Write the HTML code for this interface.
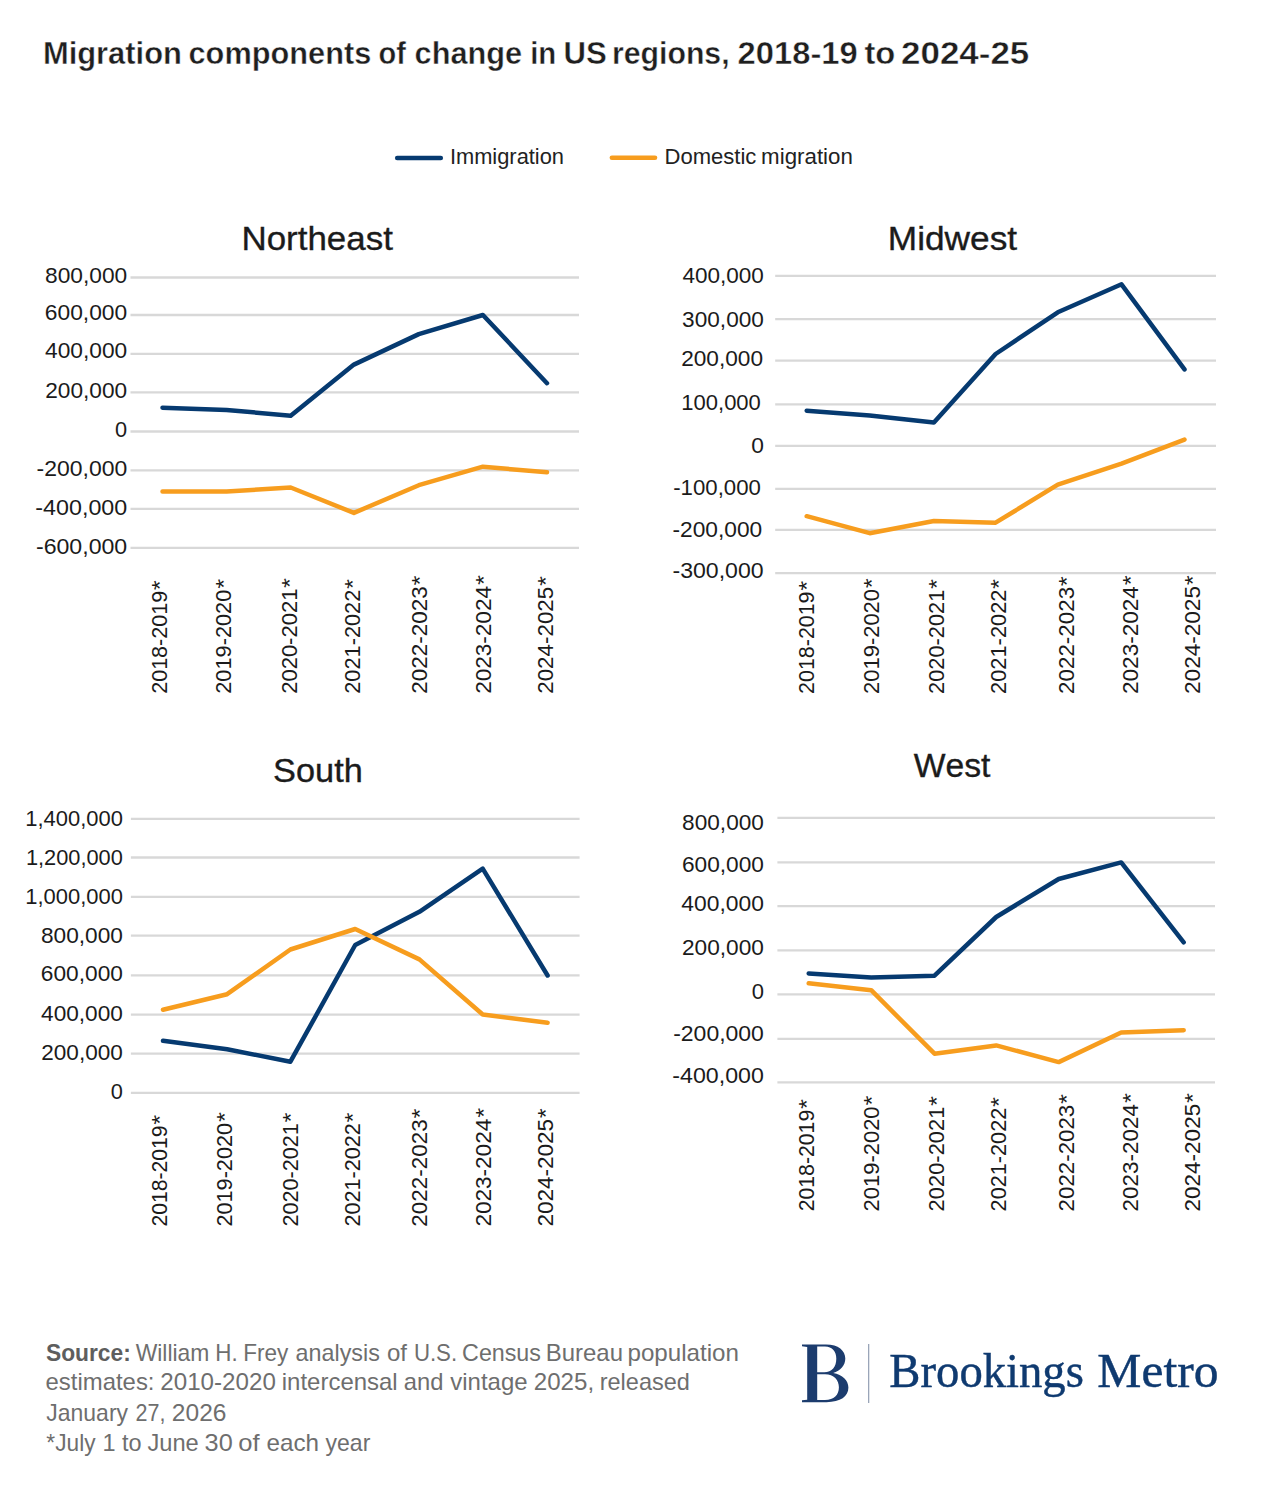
<!DOCTYPE html>
<html><head><meta charset="utf-8"><style>
html,body{margin:0;padding:0;background:#fff;}
body{width:1262px;height:1499px;overflow:hidden;}
svg{display:block;}
text{font-kerning:none;}
</style></head><body>
<svg width="1262" height="1499" viewBox="0 0 1262 1499">
<rect width="1262" height="1499" fill="#fff"/>
<text x="42.93" y="64.00" font-family='"Liberation Sans", sans-serif' font-weight="700" font-size="31" textLength="138.98" lengthAdjust="spacingAndGlyphs" fill="#1f1f1f" stroke="#fff" stroke-width="0.4">Migration</text>
<text x="188.50" y="64.00" font-family='"Liberation Sans", sans-serif' font-weight="700" font-size="31" textLength="182.76" lengthAdjust="spacingAndGlyphs" fill="#1f1f1f" stroke="#fff" stroke-width="0.4">components</text>
<text x="378.57" y="64.00" font-family='"Liberation Sans", sans-serif' font-weight="700" font-size="31" textLength="27.38" lengthAdjust="spacingAndGlyphs" fill="#1f1f1f" stroke="#fff" stroke-width="0.4">of</text>
<text x="414.60" y="64.00" font-family='"Liberation Sans", sans-serif' font-weight="700" font-size="31" textLength="107.55" lengthAdjust="spacingAndGlyphs" fill="#1f1f1f" stroke="#fff" stroke-width="0.4">change</text>
<text x="530.15" y="64.00" font-family='"Liberation Sans", sans-serif' font-weight="700" font-size="31" textLength="26.07" lengthAdjust="spacingAndGlyphs" fill="#1f1f1f" stroke="#fff" stroke-width="0.4">in</text>
<text x="563.63" y="64.00" font-family='"Liberation Sans", sans-serif' font-weight="700" font-size="31" textLength="43.29" lengthAdjust="spacingAndGlyphs" fill="#1f1f1f" stroke="#fff" stroke-width="0.4">US</text>
<text x="611.91" y="64.00" font-family='"Liberation Sans", sans-serif' font-weight="700" font-size="31" textLength="117.72" lengthAdjust="spacingAndGlyphs" fill="#1f1f1f" stroke="#fff" stroke-width="0.4">regions,</text>
<text x="737.57" y="64.00" font-family='"Liberation Sans", sans-serif' font-weight="700" font-size="31" textLength="120.15" lengthAdjust="spacingAndGlyphs" fill="#1f1f1f" stroke="#fff" stroke-width="0.4">2018-19</text>
<text x="864.40" y="64.00" font-family='"Liberation Sans", sans-serif' font-weight="700" font-size="31" textLength="30.88" lengthAdjust="spacingAndGlyphs" fill="#1f1f1f" stroke="#fff" stroke-width="0.4">to</text>
<text x="901.09" y="64.00" font-family='"Liberation Sans", sans-serif' font-weight="700" font-size="31" textLength="128.18" lengthAdjust="spacingAndGlyphs" fill="#1f1f1f" stroke="#fff" stroke-width="0.4">2024-25</text>
<line x1="397.2" y1="158" x2="440.8" y2="158" stroke="#063a70" stroke-width="4.6" stroke-linecap="round"/>
<text x="449.88" y="164.20" font-family='"Liberation Sans", sans-serif' font-weight="400" font-size="22" textLength="114.14" lengthAdjust="spacingAndGlyphs" fill="#222" >Immigration</text>
<line x1="611.9" y1="157.8" x2="655.0" y2="157.8" stroke="#f79d1e" stroke-width="4.6" stroke-linecap="round"/>
<text x="664.49" y="164.20" font-family='"Liberation Sans", sans-serif' font-weight="400" font-size="22" textLength="91.89" lengthAdjust="spacingAndGlyphs" fill="#222" >Domestic</text>
<text x="761.12" y="164.20" font-family='"Liberation Sans", sans-serif' font-weight="400" font-size="22" textLength="91.73" lengthAdjust="spacingAndGlyphs" fill="#222" >migration</text>
<text x="241.43" y="249.50" font-family='"Liberation Sans", sans-serif' font-weight="400" font-size="33.5" textLength="151.42" lengthAdjust="spacingAndGlyphs" fill="#1b1b1b" stroke="#1b1b1b" stroke-width="0.35">Northeast</text>
<line x1="130.5" y1="277.5" x2="579.0" y2="277.5" stroke="#d8d8d8" stroke-width="2.3"/>
<line x1="130.5" y1="315.0" x2="579.0" y2="315.0" stroke="#d8d8d8" stroke-width="2.3"/>
<line x1="130.5" y1="353.9" x2="579.0" y2="353.9" stroke="#d8d8d8" stroke-width="2.3"/>
<line x1="130.5" y1="392.3" x2="579.0" y2="392.3" stroke="#d8d8d8" stroke-width="2.3"/>
<line x1="130.5" y1="431.5" x2="579.0" y2="431.5" stroke="#d8d8d8" stroke-width="2.3"/>
<line x1="130.5" y1="470.3" x2="579.0" y2="470.3" stroke="#d8d8d8" stroke-width="2.3"/>
<line x1="130.5" y1="508.9" x2="579.0" y2="508.9" stroke="#d8d8d8" stroke-width="2.3"/>
<line x1="130.5" y1="547.9" x2="579.0" y2="547.9" stroke="#d8d8d8" stroke-width="2.3"/>
<text x="45.01" y="283.20" font-family='"Liberation Sans", sans-serif' font-weight="400" font-size="22.5" textLength="82.18" lengthAdjust="spacingAndGlyphs" fill="#1b1b1b" >800,000</text>
<text x="44.84" y="319.50" font-family='"Liberation Sans", sans-serif' font-weight="400" font-size="22.5" textLength="82.35" lengthAdjust="spacingAndGlyphs" fill="#1b1b1b" >600,000</text>
<text x="45.08" y="358.30" font-family='"Liberation Sans", sans-serif' font-weight="400" font-size="22.5" textLength="82.11" lengthAdjust="spacingAndGlyphs" fill="#1b1b1b" >400,000</text>
<text x="45.26" y="397.60" font-family='"Liberation Sans", sans-serif' font-weight="400" font-size="22.5" textLength="81.93" lengthAdjust="spacingAndGlyphs" fill="#1b1b1b" >200,000</text>
<text x="115.05" y="436.50" font-family='"Liberation Sans", sans-serif' font-weight="400" font-size="22.5" textLength="12.10" lengthAdjust="spacingAndGlyphs" fill="#1b1b1b" >0</text>
<text x="36.58" y="475.50" font-family='"Liberation Sans", sans-serif' font-weight="400" font-size="22.5" textLength="90.62" lengthAdjust="spacingAndGlyphs" fill="#1b1b1b" >-200,000</text>
<text x="35.37" y="515.10" font-family='"Liberation Sans", sans-serif' font-weight="400" font-size="22.5" textLength="91.84" lengthAdjust="spacingAndGlyphs" fill="#1b1b1b" >-400,000</text>
<text x="35.97" y="553.90" font-family='"Liberation Sans", sans-serif' font-weight="400" font-size="22.5" textLength="91.23" lengthAdjust="spacingAndGlyphs" fill="#1b1b1b" >-600,000</text>
<polyline points="162.5,407.8 226.6,410.0 290.7,415.7 353.9,364.6 418.8,334.1 482.9,315.0 547.0,383.2" fill="none" stroke="#063a70" stroke-width="4.5" stroke-linecap="round" stroke-linejoin="round"/>
<polyline points="162.5,491.5 226.6,491.5 290.7,487.5 353.9,512.9 418.8,485.2 482.9,466.7 547.0,472.3" fill="none" stroke="#f79d1e" stroke-width="4.5" stroke-linecap="round" stroke-linejoin="round"/>
<text transform="translate(167.10,692.70) rotate(-90)" x="-1.08" y="0" font-family='"Liberation Sans", sans-serif' font-size="22.5" textLength="102.90" lengthAdjust="spacingAndGlyphs" fill="#1b1b1b">2018-2019</text>
<text transform="translate(167.10,589.80) rotate(-90)" x="-0.41" y="0" font-family='"Liberation Sans", sans-serif' font-size="22.5" textLength="9.91" lengthAdjust="spacingAndGlyphs" fill="#1b1b1b">*</text>
<text transform="translate(231.30,692.70) rotate(-90)" x="-1.10" y="0" font-family='"Liberation Sans", sans-serif' font-size="22.5" textLength="104.15" lengthAdjust="spacingAndGlyphs" fill="#1b1b1b">2019-2020</text>
<text transform="translate(231.30,588.40) rotate(-90)" x="-0.41" y="0" font-family='"Liberation Sans", sans-serif' font-size="22.5" textLength="9.91" lengthAdjust="spacingAndGlyphs" fill="#1b1b1b">*</text>
<text transform="translate(296.90,692.70) rotate(-90)" x="-1.11" y="0" font-family='"Liberation Sans", sans-serif' font-size="22.5" textLength="105.18" lengthAdjust="spacingAndGlyphs" fill="#1b1b1b">2020-2021</text>
<text transform="translate(296.90,587.60) rotate(-90)" x="-0.41" y="0" font-family='"Liberation Sans", sans-serif' font-size="22.5" textLength="9.91" lengthAdjust="spacingAndGlyphs" fill="#1b1b1b">*</text>
<text transform="translate(359.60,692.70) rotate(-90)" x="-1.09" y="0" font-family='"Liberation Sans", sans-serif' font-size="22.5" textLength="104.09" lengthAdjust="spacingAndGlyphs" fill="#1b1b1b">2021-2022</text>
<text transform="translate(359.60,588.70) rotate(-90)" x="-0.41" y="0" font-family='"Liberation Sans", sans-serif' font-size="22.5" textLength="9.91" lengthAdjust="spacingAndGlyphs" fill="#1b1b1b">*</text>
<text transform="translate(427.10,692.70) rotate(-90)" x="-1.13" y="0" font-family='"Liberation Sans", sans-serif' font-size="22.5" textLength="107.52" lengthAdjust="spacingAndGlyphs" fill="#1b1b1b">2022-2023</text>
<text transform="translate(427.10,585.20) rotate(-90)" x="-0.41" y="0" font-family='"Liberation Sans", sans-serif' font-size="22.5" textLength="9.91" lengthAdjust="spacingAndGlyphs" fill="#1b1b1b">*</text>
<text transform="translate(491.00,692.70) rotate(-90)" x="-1.13" y="0" font-family='"Liberation Sans", sans-serif' font-size="22.5" textLength="107.79" lengthAdjust="spacingAndGlyphs" fill="#1b1b1b">2023-2024</text>
<text transform="translate(491.00,584.60) rotate(-90)" x="-0.41" y="0" font-family='"Liberation Sans", sans-serif' font-size="22.5" textLength="9.91" lengthAdjust="spacingAndGlyphs" fill="#1b1b1b">*</text>
<text transform="translate(552.80,692.70) rotate(-90)" x="-1.13" y="0" font-family='"Liberation Sans", sans-serif' font-size="22.5" textLength="107.07" lengthAdjust="spacingAndGlyphs" fill="#1b1b1b">2024-2025</text>
<text transform="translate(552.80,585.60) rotate(-90)" x="-0.41" y="0" font-family='"Liberation Sans", sans-serif' font-size="22.5" textLength="9.91" lengthAdjust="spacingAndGlyphs" fill="#1b1b1b">*</text>
<text x="887.81" y="249.50" font-family='"Liberation Sans", sans-serif' font-weight="400" font-size="33.5" textLength="129.35" lengthAdjust="spacingAndGlyphs" fill="#1b1b1b" stroke="#1b1b1b" stroke-width="0.35">Midwest</text>
<line x1="775.2" y1="275.9" x2="1216.0" y2="275.9" stroke="#d8d8d8" stroke-width="2.3"/>
<line x1="775.2" y1="319.2" x2="1216.0" y2="319.2" stroke="#d8d8d8" stroke-width="2.3"/>
<line x1="775.2" y1="360.7" x2="1216.0" y2="360.7" stroke="#d8d8d8" stroke-width="2.3"/>
<line x1="775.2" y1="404.3" x2="1216.0" y2="404.3" stroke="#d8d8d8" stroke-width="2.3"/>
<line x1="775.2" y1="445.9" x2="1216.0" y2="445.9" stroke="#d8d8d8" stroke-width="2.3"/>
<line x1="775.2" y1="488.8" x2="1216.0" y2="488.8" stroke="#d8d8d8" stroke-width="2.3"/>
<line x1="775.2" y1="529.9" x2="1216.0" y2="529.9" stroke="#d8d8d8" stroke-width="2.3"/>
<line x1="775.2" y1="573.2" x2="1216.0" y2="573.2" stroke="#d8d8d8" stroke-width="2.3"/>
<text x="682.48" y="283.20" font-family='"Liberation Sans", sans-serif' font-weight="400" font-size="22.5" textLength="81.40" lengthAdjust="spacingAndGlyphs" fill="#1b1b1b" >400,000</text>
<text x="682.14" y="326.50" font-family='"Liberation Sans", sans-serif' font-weight="400" font-size="22.5" textLength="81.74" lengthAdjust="spacingAndGlyphs" fill="#1b1b1b" >300,000</text>
<text x="681.16" y="365.60" font-family='"Liberation Sans", sans-serif' font-weight="400" font-size="22.5" textLength="81.93" lengthAdjust="spacingAndGlyphs" fill="#1b1b1b" >200,000</text>
<text x="681.32" y="409.60" font-family='"Liberation Sans", sans-serif' font-weight="400" font-size="22.5" textLength="79.54" lengthAdjust="spacingAndGlyphs" fill="#1b1b1b" >100,000</text>
<text x="751.21" y="452.60" font-family='"Liberation Sans", sans-serif' font-weight="400" font-size="22.5" textLength="12.68" lengthAdjust="spacingAndGlyphs" fill="#1b1b1b" >0</text>
<text x="673.21" y="494.60" font-family='"Liberation Sans", sans-serif' font-weight="400" font-size="22.5" textLength="87.65" lengthAdjust="spacingAndGlyphs" fill="#1b1b1b" >-100,000</text>
<text x="672.49" y="536.70" font-family='"Liberation Sans", sans-serif' font-weight="400" font-size="22.5" textLength="89.70" lengthAdjust="spacingAndGlyphs" fill="#1b1b1b" >-200,000</text>
<text x="672.47" y="578.40" font-family='"Liberation Sans", sans-serif' font-weight="400" font-size="22.5" textLength="91.13" lengthAdjust="spacingAndGlyphs" fill="#1b1b1b" >-300,000</text>
<polyline points="806.7,410.7 869.7,415.4 933.9,422.4 995.6,354.0 1057.8,312.3 1121.5,284.3 1184.5,369.4" fill="none" stroke="#063a70" stroke-width="4.5" stroke-linecap="round" stroke-linejoin="round"/>
<polyline points="806.7,516.2 869.7,533.2 933.9,521.0 995.6,522.7 1057.8,484.7 1121.5,463.7 1184.5,439.6" fill="none" stroke="#f79d1e" stroke-width="4.5" stroke-linecap="round" stroke-linejoin="round"/>
<text transform="translate(814.00,692.80) rotate(-90)" x="-1.08" y="0" font-family='"Liberation Sans", sans-serif' font-size="22.5" textLength="102.39" lengthAdjust="spacingAndGlyphs" fill="#1b1b1b">2018-2019</text>
<text transform="translate(814.00,590.40) rotate(-90)" x="-0.41" y="0" font-family='"Liberation Sans", sans-serif' font-size="22.5" textLength="9.91" lengthAdjust="spacingAndGlyphs" fill="#1b1b1b">*</text>
<text transform="translate(878.50,692.80) rotate(-90)" x="-1.10" y="0" font-family='"Liberation Sans", sans-serif' font-size="22.5" textLength="104.86" lengthAdjust="spacingAndGlyphs" fill="#1b1b1b">2019-2020</text>
<text transform="translate(878.50,587.80) rotate(-90)" x="-0.41" y="0" font-family='"Liberation Sans", sans-serif' font-size="22.5" textLength="9.91" lengthAdjust="spacingAndGlyphs" fill="#1b1b1b">*</text>
<text transform="translate(943.90,692.80) rotate(-90)" x="-1.10" y="0" font-family='"Liberation Sans", sans-serif' font-size="22.5" textLength="104.16" lengthAdjust="spacingAndGlyphs" fill="#1b1b1b">2020-2021</text>
<text transform="translate(943.90,588.70) rotate(-90)" x="-0.41" y="0" font-family='"Liberation Sans", sans-serif' font-size="22.5" textLength="9.91" lengthAdjust="spacingAndGlyphs" fill="#1b1b1b">*</text>
<text transform="translate(1006.20,692.80) rotate(-90)" x="-1.10" y="0" font-family='"Liberation Sans", sans-serif' font-size="22.5" textLength="104.29" lengthAdjust="spacingAndGlyphs" fill="#1b1b1b">2021-2022</text>
<text transform="translate(1006.20,588.60) rotate(-90)" x="-0.41" y="0" font-family='"Liberation Sans", sans-serif' font-size="22.5" textLength="9.91" lengthAdjust="spacingAndGlyphs" fill="#1b1b1b">*</text>
<text transform="translate(1073.60,692.80) rotate(-90)" x="-1.13" y="0" font-family='"Liberation Sans", sans-serif' font-size="22.5" textLength="107.01" lengthAdjust="spacingAndGlyphs" fill="#1b1b1b">2022-2023</text>
<text transform="translate(1073.60,585.80) rotate(-90)" x="-0.41" y="0" font-family='"Liberation Sans", sans-serif' font-size="22.5" textLength="9.91" lengthAdjust="spacingAndGlyphs" fill="#1b1b1b">*</text>
<text transform="translate(1137.90,692.80) rotate(-90)" x="-1.13" y="0" font-family='"Liberation Sans", sans-serif' font-size="22.5" textLength="107.69" lengthAdjust="spacingAndGlyphs" fill="#1b1b1b">2023-2024</text>
<text transform="translate(1137.90,584.80) rotate(-90)" x="-0.41" y="0" font-family='"Liberation Sans", sans-serif' font-size="22.5" textLength="9.91" lengthAdjust="spacingAndGlyphs" fill="#1b1b1b">*</text>
<text transform="translate(1200.20,692.80) rotate(-90)" x="-1.13" y="0" font-family='"Liberation Sans", sans-serif' font-size="22.5" textLength="107.88" lengthAdjust="spacingAndGlyphs" fill="#1b1b1b">2024-2025</text>
<text transform="translate(1200.20,584.90) rotate(-90)" x="-0.41" y="0" font-family='"Liberation Sans", sans-serif' font-size="22.5" textLength="9.91" lengthAdjust="spacingAndGlyphs" fill="#1b1b1b">*</text>
<text x="273.14" y="781.60" font-family='"Liberation Sans", sans-serif' font-weight="400" font-size="33.5" textLength="89.69" lengthAdjust="spacingAndGlyphs" fill="#1b1b1b" stroke="#1b1b1b" stroke-width="0.35">South</text>
<line x1="130.9" y1="818.9" x2="579.6" y2="818.9" stroke="#d8d8d8" stroke-width="2.3"/>
<line x1="130.9" y1="857.5" x2="579.6" y2="857.5" stroke="#d8d8d8" stroke-width="2.3"/>
<line x1="130.9" y1="896.8" x2="579.6" y2="896.8" stroke="#d8d8d8" stroke-width="2.3"/>
<line x1="130.9" y1="935.7" x2="579.6" y2="935.7" stroke="#d8d8d8" stroke-width="2.3"/>
<line x1="130.9" y1="975.4" x2="579.6" y2="975.4" stroke="#d8d8d8" stroke-width="2.3"/>
<line x1="130.9" y1="1014.6" x2="579.6" y2="1014.6" stroke="#d8d8d8" stroke-width="2.3"/>
<line x1="130.9" y1="1053.7" x2="579.6" y2="1053.7" stroke="#d8d8d8" stroke-width="2.3"/>
<line x1="130.9" y1="1092.8" x2="579.6" y2="1092.8" stroke="#d8d8d8" stroke-width="2.3"/>
<text x="25.33" y="825.50" font-family='"Liberation Sans", sans-serif' font-weight="400" font-size="22.5" textLength="97.53" lengthAdjust="spacingAndGlyphs" fill="#1b1b1b" >1,400,000</text>
<text x="25.94" y="864.50" font-family='"Liberation Sans", sans-serif' font-weight="400" font-size="22.5" textLength="96.91" lengthAdjust="spacingAndGlyphs" fill="#1b1b1b" >1,200,000</text>
<text x="25.33" y="903.60" font-family='"Liberation Sans", sans-serif' font-weight="400" font-size="22.5" textLength="97.53" lengthAdjust="spacingAndGlyphs" fill="#1b1b1b" >1,000,000</text>
<text x="41.02" y="942.60" font-family='"Liberation Sans", sans-serif' font-weight="400" font-size="22.5" textLength="81.87" lengthAdjust="spacingAndGlyphs" fill="#1b1b1b" >800,000</text>
<text x="40.85" y="980.80" font-family='"Liberation Sans", sans-serif' font-weight="400" font-size="22.5" textLength="82.04" lengthAdjust="spacingAndGlyphs" fill="#1b1b1b" >600,000</text>
<text x="41.08" y="1020.50" font-family='"Liberation Sans", sans-serif' font-weight="400" font-size="22.5" textLength="81.80" lengthAdjust="spacingAndGlyphs" fill="#1b1b1b" >400,000</text>
<text x="41.26" y="1059.60" font-family='"Liberation Sans", sans-serif' font-weight="400" font-size="22.5" textLength="81.62" lengthAdjust="spacingAndGlyphs" fill="#1b1b1b" >200,000</text>
<text x="110.75" y="1098.60" font-family='"Liberation Sans", sans-serif' font-weight="400" font-size="22.5" textLength="12.10" lengthAdjust="spacingAndGlyphs" fill="#1b1b1b" >0</text>
<polyline points="163.0,1040.8 227.1,1049.3 290.4,1061.7 355.2,945.0 419.4,911.8 482.7,868.6 547.6,975.5" fill="none" stroke="#063a70" stroke-width="4.5" stroke-linecap="round" stroke-linejoin="round"/>
<polyline points="163.0,1009.8 227.1,994.2 290.4,949.5 355.2,929.0 419.4,959.4 482.7,1014.5 547.6,1022.7" fill="none" stroke="#f79d1e" stroke-width="4.5" stroke-linecap="round" stroke-linejoin="round"/>
<text transform="translate(167.40,1225.50) rotate(-90)" x="-1.06" y="0" font-family='"Liberation Sans", sans-serif' font-size="22.5" textLength="101.06" lengthAdjust="spacingAndGlyphs" fill="#1b1b1b">2018-2019</text>
<text transform="translate(167.40,1124.40) rotate(-90)" x="-0.41" y="0" font-family='"Liberation Sans", sans-serif' font-size="22.5" textLength="9.91" lengthAdjust="spacingAndGlyphs" fill="#1b1b1b">*</text>
<text transform="translate(231.50,1225.50) rotate(-90)" x="-1.09" y="0" font-family='"Liberation Sans", sans-serif' font-size="22.5" textLength="103.64" lengthAdjust="spacingAndGlyphs" fill="#1b1b1b">2019-2020</text>
<text transform="translate(231.50,1121.70) rotate(-90)" x="-0.41" y="0" font-family='"Liberation Sans", sans-serif' font-size="22.5" textLength="9.91" lengthAdjust="spacingAndGlyphs" fill="#1b1b1b">*</text>
<text transform="translate(297.80,1225.50) rotate(-90)" x="-1.09" y="0" font-family='"Liberation Sans", sans-serif' font-size="22.5" textLength="103.34" lengthAdjust="spacingAndGlyphs" fill="#1b1b1b">2020-2021</text>
<text transform="translate(297.80,1122.20) rotate(-90)" x="-0.41" y="0" font-family='"Liberation Sans", sans-serif' font-size="22.5" textLength="9.91" lengthAdjust="spacingAndGlyphs" fill="#1b1b1b">*</text>
<text transform="translate(359.70,1225.50) rotate(-90)" x="-1.09" y="0" font-family='"Liberation Sans", sans-serif' font-size="22.5" textLength="103.37" lengthAdjust="spacingAndGlyphs" fill="#1b1b1b">2021-2022</text>
<text transform="translate(359.70,1122.20) rotate(-90)" x="-0.41" y="0" font-family='"Liberation Sans", sans-serif' font-size="22.5" textLength="9.91" lengthAdjust="spacingAndGlyphs" fill="#1b1b1b">*</text>
<text transform="translate(426.80,1225.50) rotate(-90)" x="-1.13" y="0" font-family='"Liberation Sans", sans-serif' font-size="22.5" textLength="107.42" lengthAdjust="spacingAndGlyphs" fill="#1b1b1b">2022-2023</text>
<text transform="translate(426.80,1118.10) rotate(-90)" x="-0.41" y="0" font-family='"Liberation Sans", sans-serif' font-size="22.5" textLength="9.91" lengthAdjust="spacingAndGlyphs" fill="#1b1b1b">*</text>
<text transform="translate(490.60,1225.50) rotate(-90)" x="-1.13" y="0" font-family='"Liberation Sans", sans-serif' font-size="22.5" textLength="107.90" lengthAdjust="spacingAndGlyphs" fill="#1b1b1b">2023-2024</text>
<text transform="translate(490.60,1117.30) rotate(-90)" x="-0.41" y="0" font-family='"Liberation Sans", sans-serif' font-size="22.5" textLength="9.91" lengthAdjust="spacingAndGlyphs" fill="#1b1b1b">*</text>
<text transform="translate(552.70,1225.50) rotate(-90)" x="-1.13" y="0" font-family='"Liberation Sans", sans-serif' font-size="22.5" textLength="107.68" lengthAdjust="spacingAndGlyphs" fill="#1b1b1b">2024-2025</text>
<text transform="translate(552.70,1117.80) rotate(-90)" x="-0.41" y="0" font-family='"Liberation Sans", sans-serif' font-size="22.5" textLength="9.91" lengthAdjust="spacingAndGlyphs" fill="#1b1b1b">*</text>
<text x="913.75" y="776.60" font-family='"Liberation Sans", sans-serif' font-weight="400" font-size="33.5" textLength="76.69" lengthAdjust="spacingAndGlyphs" fill="#1b1b1b" stroke="#1b1b1b" stroke-width="0.35">West</text>
<line x1="777.4" y1="817.8" x2="1215.0" y2="817.8" stroke="#d8d8d8" stroke-width="2.3"/>
<line x1="777.4" y1="862.4" x2="1215.0" y2="862.4" stroke="#d8d8d8" stroke-width="2.3"/>
<line x1="777.4" y1="906.2" x2="1215.0" y2="906.2" stroke="#d8d8d8" stroke-width="2.3"/>
<line x1="777.4" y1="950.3" x2="1215.0" y2="950.3" stroke="#d8d8d8" stroke-width="2.3"/>
<line x1="777.4" y1="994.3" x2="1215.0" y2="994.3" stroke="#d8d8d8" stroke-width="2.3"/>
<line x1="777.4" y1="1038.8" x2="1215.0" y2="1038.8" stroke="#d8d8d8" stroke-width="2.3"/>
<line x1="777.4" y1="1082.4" x2="1215.0" y2="1082.4" stroke="#d8d8d8" stroke-width="2.3"/>
<text x="682.12" y="829.50" font-family='"Liberation Sans", sans-serif' font-weight="400" font-size="22.5" textLength="81.77" lengthAdjust="spacingAndGlyphs" fill="#1b1b1b" >800,000</text>
<text x="681.95" y="872.00" font-family='"Liberation Sans", sans-serif' font-weight="400" font-size="22.5" textLength="81.94" lengthAdjust="spacingAndGlyphs" fill="#1b1b1b" >600,000</text>
<text x="681.38" y="911.10" font-family='"Liberation Sans", sans-serif' font-weight="400" font-size="22.5" textLength="82.52" lengthAdjust="spacingAndGlyphs" fill="#1b1b1b" >400,000</text>
<text x="681.96" y="954.80" font-family='"Liberation Sans", sans-serif' font-weight="400" font-size="22.5" textLength="81.93" lengthAdjust="spacingAndGlyphs" fill="#1b1b1b" >200,000</text>
<text x="751.64" y="999.00" font-family='"Liberation Sans", sans-serif' font-weight="400" font-size="22.5" textLength="12.22" lengthAdjust="spacingAndGlyphs" fill="#1b1b1b" >0</text>
<text x="673.18" y="1041.10" font-family='"Liberation Sans", sans-serif' font-weight="400" font-size="22.5" textLength="90.72" lengthAdjust="spacingAndGlyphs" fill="#1b1b1b" >-200,000</text>
<text x="672.37" y="1083.10" font-family='"Liberation Sans", sans-serif' font-weight="400" font-size="22.5" textLength="91.54" lengthAdjust="spacingAndGlyphs" fill="#1b1b1b" >-400,000</text>
<polyline points="808.7,973.5 871.2,977.5 934.5,975.7 996.2,917.0 1058.7,879.0 1121.2,862.4 1183.7,942.3" fill="none" stroke="#063a70" stroke-width="4.5" stroke-linecap="round" stroke-linejoin="round"/>
<polyline points="808.7,983.2 871.2,990.2 934.5,1053.7 996.2,1045.4 1058.7,1062.1 1121.2,1032.5 1183.7,1030.2" fill="none" stroke="#f79d1e" stroke-width="4.5" stroke-linecap="round" stroke-linejoin="round"/>
<text transform="translate(814.00,1210.30) rotate(-90)" x="-1.07" y="0" font-family='"Liberation Sans", sans-serif' font-size="22.5" textLength="101.57" lengthAdjust="spacingAndGlyphs" fill="#1b1b1b">2018-2019</text>
<text transform="translate(814.00,1108.70) rotate(-90)" x="-0.41" y="0" font-family='"Liberation Sans", sans-serif' font-size="22.5" textLength="9.91" lengthAdjust="spacingAndGlyphs" fill="#1b1b1b">*</text>
<text transform="translate(878.50,1210.30) rotate(-90)" x="-1.10" y="0" font-family='"Liberation Sans", sans-serif' font-size="22.5" textLength="104.96" lengthAdjust="spacingAndGlyphs" fill="#1b1b1b">2019-2020</text>
<text transform="translate(878.50,1105.20) rotate(-90)" x="-0.41" y="0" font-family='"Liberation Sans", sans-serif' font-size="22.5" textLength="9.91" lengthAdjust="spacingAndGlyphs" fill="#1b1b1b">*</text>
<text transform="translate(943.90,1210.30) rotate(-90)" x="-1.10" y="0" font-family='"Liberation Sans", sans-serif' font-size="22.5" textLength="104.77" lengthAdjust="spacingAndGlyphs" fill="#1b1b1b">2020-2021</text>
<text transform="translate(943.90,1105.60) rotate(-90)" x="-0.41" y="0" font-family='"Liberation Sans", sans-serif' font-size="22.5" textLength="9.91" lengthAdjust="spacingAndGlyphs" fill="#1b1b1b">*</text>
<text transform="translate(1006.20,1210.30) rotate(-90)" x="-1.09" y="0" font-family='"Liberation Sans", sans-serif' font-size="22.5" textLength="103.68" lengthAdjust="spacingAndGlyphs" fill="#1b1b1b">2021-2022</text>
<text transform="translate(1006.20,1106.70) rotate(-90)" x="-0.41" y="0" font-family='"Liberation Sans", sans-serif' font-size="22.5" textLength="9.91" lengthAdjust="spacingAndGlyphs" fill="#1b1b1b">*</text>
<text transform="translate(1073.60,1210.30) rotate(-90)" x="-1.12" y="0" font-family='"Liberation Sans", sans-serif' font-size="22.5" textLength="106.70" lengthAdjust="spacingAndGlyphs" fill="#1b1b1b">2022-2023</text>
<text transform="translate(1073.60,1103.60) rotate(-90)" x="-0.41" y="0" font-family='"Liberation Sans", sans-serif' font-size="22.5" textLength="9.91" lengthAdjust="spacingAndGlyphs" fill="#1b1b1b">*</text>
<text transform="translate(1137.90,1210.30) rotate(-90)" x="-1.13" y="0" font-family='"Liberation Sans", sans-serif' font-size="22.5" textLength="107.39" lengthAdjust="spacingAndGlyphs" fill="#1b1b1b">2023-2024</text>
<text transform="translate(1137.90,1102.60) rotate(-90)" x="-0.41" y="0" font-family='"Liberation Sans", sans-serif' font-size="22.5" textLength="9.91" lengthAdjust="spacingAndGlyphs" fill="#1b1b1b">*</text>
<text transform="translate(1200.20,1210.30) rotate(-90)" x="-1.13" y="0" font-family='"Liberation Sans", sans-serif' font-size="22.5" textLength="107.58" lengthAdjust="spacingAndGlyphs" fill="#1b1b1b">2024-2025</text>
<text transform="translate(1200.20,1102.70) rotate(-90)" x="-0.41" y="0" font-family='"Liberation Sans", sans-serif' font-size="22.5" textLength="9.91" lengthAdjust="spacingAndGlyphs" fill="#1b1b1b">*</text>
<text x="45.94" y="1360.80" font-family='"Liberation Sans", sans-serif' font-weight="700" font-size="23.2" textLength="84.85" lengthAdjust="spacingAndGlyphs" fill="#5e5e5e" >Source:</text>
<text x="135.70" y="1360.80" font-family='"Liberation Sans", sans-serif' font-weight="400" font-size="23.2" textLength="73.71" lengthAdjust="spacingAndGlyphs" fill="#6e6e6e" >William</text>
<text x="215.36" y="1360.80" font-family='"Liberation Sans", sans-serif' font-weight="400" font-size="23.2" textLength="22.38" lengthAdjust="spacingAndGlyphs" fill="#6e6e6e" >H.</text>
<text x="243.15" y="1360.80" font-family='"Liberation Sans", sans-serif' font-weight="400" font-size="23.2" textLength="45.09" lengthAdjust="spacingAndGlyphs" fill="#6e6e6e" >Frey</text>
<text x="295.61" y="1360.80" font-family='"Liberation Sans", sans-serif' font-weight="400" font-size="23.2" textLength="84.23" lengthAdjust="spacingAndGlyphs" fill="#6e6e6e" >analysis</text>
<text x="386.99" y="1360.80" font-family='"Liberation Sans", sans-serif' font-weight="400" font-size="23.2" textLength="20.08" lengthAdjust="spacingAndGlyphs" fill="#6e6e6e" >of</text>
<text x="413.88" y="1360.80" font-family='"Liberation Sans", sans-serif' font-weight="400" font-size="23.2" textLength="43.25" lengthAdjust="spacingAndGlyphs" fill="#6e6e6e" >U.S.</text>
<text x="462.12" y="1360.80" font-family='"Liberation Sans", sans-serif' font-weight="400" font-size="23.2" textLength="78.82" lengthAdjust="spacingAndGlyphs" fill="#6e6e6e" >Census</text>
<text x="545.73" y="1360.80" font-family='"Liberation Sans", sans-serif' font-weight="400" font-size="23.2" textLength="77.26" lengthAdjust="spacingAndGlyphs" fill="#6e6e6e" >Bureau</text>
<text x="627.44" y="1360.80" font-family='"Liberation Sans", sans-serif' font-weight="400" font-size="23.2" textLength="111.53" lengthAdjust="spacingAndGlyphs" fill="#6e6e6e" >population</text>
<text x="45.58" y="1390.10" font-family='"Liberation Sans", sans-serif' font-weight="400" font-size="23.2" textLength="108.90" lengthAdjust="spacingAndGlyphs" fill="#6e6e6e" >estimates:</text>
<text x="160.28" y="1390.10" font-family='"Liberation Sans", sans-serif' font-weight="400" font-size="23.2" textLength="115.56" lengthAdjust="spacingAndGlyphs" fill="#6e6e6e" >2010-2020</text>
<text x="281.80" y="1390.10" font-family='"Liberation Sans", sans-serif' font-weight="400" font-size="23.2" textLength="115.91" lengthAdjust="spacingAndGlyphs" fill="#6e6e6e" >intercensal</text>
<text x="403.89" y="1390.10" font-family='"Liberation Sans", sans-serif' font-weight="400" font-size="23.2" textLength="39.64" lengthAdjust="spacingAndGlyphs" fill="#6e6e6e" >and</text>
<text x="450.22" y="1390.10" font-family='"Liberation Sans", sans-serif' font-weight="400" font-size="23.2" textLength="77.35" lengthAdjust="spacingAndGlyphs" fill="#6e6e6e" >vintage</text>
<text x="533.79" y="1390.10" font-family='"Liberation Sans", sans-serif' font-weight="400" font-size="23.2" textLength="60.38" lengthAdjust="spacingAndGlyphs" fill="#6e6e6e" >2025,</text>
<text x="599.74" y="1390.10" font-family='"Liberation Sans", sans-serif' font-weight="400" font-size="23.2" textLength="90.07" lengthAdjust="spacingAndGlyphs" fill="#6e6e6e" >released</text>
<text x="46.34" y="1420.90" font-family='"Liberation Sans", sans-serif' font-weight="400" font-size="23.2" textLength="81.70" lengthAdjust="spacingAndGlyphs" fill="#6e6e6e" >January</text>
<text x="135.62" y="1420.90" font-family='"Liberation Sans", sans-serif' font-weight="400" font-size="23.2" textLength="29.92" lengthAdjust="spacingAndGlyphs" fill="#6e6e6e" >27,</text>
<text x="171.87" y="1420.90" font-family='"Liberation Sans", sans-serif' font-weight="400" font-size="23.2" textLength="54.61" lengthAdjust="spacingAndGlyphs" fill="#6e6e6e" >2026</text>
<text x="46.33" y="1450.80" font-family='"Liberation Sans", sans-serif' font-weight="400" font-size="23.2" textLength="49.21" lengthAdjust="spacingAndGlyphs" fill="#6e6e6e" >*July</text>
<text x="102.41" y="1450.80" font-family='"Liberation Sans", sans-serif' font-weight="400" font-size="23.2" textLength="39.18" lengthAdjust="spacingAndGlyphs" fill="#6e6e6e" >1 to</text>
<text x="147.43" y="1450.80" font-family='"Liberation Sans", sans-serif' font-weight="400" font-size="23.2" textLength="51.32" lengthAdjust="spacingAndGlyphs" fill="#6e6e6e" >June</text>
<text x="204.64" y="1450.80" font-family='"Liberation Sans", sans-serif' font-weight="400" font-size="23.2" textLength="28.15" lengthAdjust="spacingAndGlyphs" fill="#6e6e6e" >30</text>
<text x="238.23" y="1450.80" font-family='"Liberation Sans", sans-serif' font-weight="400" font-size="23.2" textLength="21.34" lengthAdjust="spacingAndGlyphs" fill="#6e6e6e" >of</text>
<text x="266.57" y="1450.80" font-family='"Liberation Sans", sans-serif' font-weight="400" font-size="23.2" textLength="52.50" lengthAdjust="spacingAndGlyphs" fill="#6e6e6e" >each</text>
<text x="325.54" y="1450.80" font-family='"Liberation Sans", sans-serif' font-weight="400" font-size="23.2" textLength="44.84" lengthAdjust="spacingAndGlyphs" fill="#6e6e6e" >year</text>
<path fill-rule="evenodd" fill="#1c3c6e" d="M802,1344.4 L826,1344.4 C838.5,1344.4 845.3,1350.5 845.3,1358.6 C845.3,1365.5 840.5,1371 833.2,1373 C842.5,1374.5 848.4,1380.5 848.4,1387.6 C848.4,1396.5 840.5,1402.2 826.5,1402.2 L802,1402.2 L802,1400.3 L807.2,1399.7 L807.2,1346.9 L802,1346.3 Z M817.2,1346.6 L825,1346.6 C832.4,1346.6 836.3,1351.6 836.3,1358.8 C836.3,1366.6 832.2,1372.3 824.2,1372.3 L817.2,1372.3 Z M817.2,1374.2 L825,1374.2 C834,1374.2 838.9,1380 838.9,1387.3 C838.9,1395.2 834,1399.9 825,1399.9 L817.2,1399.9 Z"/>
<rect x="868" y="1344" width="1.3" height="59" fill="#9aa5b8"/>
<text x="889.36" y="1387.20" font-family='"Liberation Serif", serif' font-weight="400" font-size="49.5" textLength="194.53" lengthAdjust="spacingAndGlyphs" fill="#0f3a70" stroke="#0f3a70" stroke-width="0.45">Brookings</text>
<text x="1097.37" y="1387.20" font-family='"Liberation Serif", serif' font-weight="400" font-size="49.5" textLength="121.22" lengthAdjust="spacingAndGlyphs" fill="#0f3a70" stroke="#0f3a70" stroke-width="0.45">Metro</text>
</svg>
</body></html>
